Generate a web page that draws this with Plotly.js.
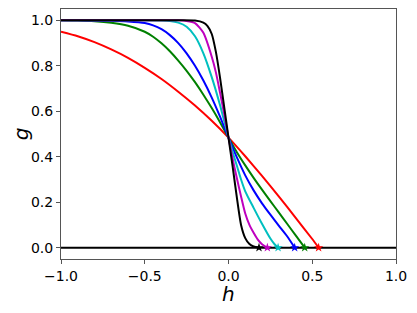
<!DOCTYPE html>
<html>
<head>
<meta charset="utf-8">
<script src="https://cdn.plot.ly/plotly-3.0.1.min.js"></script>
<style>html,body{margin:0;padding:0;background:#fff;}#chart{width:417px;height:313px;}</style>
</head>
<body>
<div id="chart"></div>
<script>
// Values
const hRed = [-1, -0.9, -0.8, -0.7, -0.6, -0.5, -0.4, -0.3, -0.2, -0.1, 0, 0.1, 0.2, 0.3, 0.4, 0.5, 0.538];
const gRed = [0.95, 0.93, 0.904, 0.872, 0.835, 0.791, 0.742, 0.686, 0.625, 0.558, 0.484, 0.402, 0.316, 0.226, 0.132, 0.038, 0];

const hGreen = [-1, -0.9, -0.8, -0.7, -0.6, -0.5, -0.45, -0.4, -0.35, -0.3, -0.25, -0.2, -0.15, -0.1, -0.05, 0, 0.05, 0.1, 0.15, 0.2, 0.25, 0.3, 0.35, 0.4, 0.455];
const gGreen = [1, 0.999, 0.996, 0.989, 0.976, 0.95, 0.928, 0.899, 0.864, 0.823, 0.778, 0.728, 0.673, 0.614, 0.551, 0.484, 0.42, 0.362, 0.307, 0.255, 0.205, 0.155, 0.105, 0.055, 0];

const hBlue = [-1, -0.9, -0.8, -0.7, -0.6, -0.5, -0.45, -0.4, -0.35, -0.3, -0.25, -0.2, -0.15, -0.1, -0.05, 0, 0.05, 0.1, 0.15, 0.2, 0.25, 0.3, 0.35, 0.395];
const gBlue = [1, 1, 0.999, 0.998, 0.995, 0.988, 0.978, 0.961, 0.935, 0.90, 0.855, 0.80, 0.735, 0.66, 0.575, 0.484, 0.397, 0.318, 0.252, 0.195, 0.145, 0.097, 0.05, 0];

const hCyan = [-1, -0.8, -0.6, -0.5, -0.4, -0.35, -0.3, -0.25, -0.2, -0.15, -0.1, -0.05, 0, 0.025, 0.05, 0.075, 0.1, 0.15, 0.2, 0.25, 0.275, 0.296];
const gCyan = [1, 1, 1, 1, 0.999, 0.997, 0.99, 0.972, 0.93, 0.855, 0.75, 0.625, 0.484, 0.42, 0.36, 0.30, 0.248, 0.175, 0.105, 0.04, 0.015, 0];

const hMagenta = [-1, -0.8, -0.6, -0.4, -0.3, -0.25, -0.2, -0.15, -0.1, -0.075, -0.05, -0.025, 0, 0.025, 0.05, 0.075, 0.1, 0.125, 0.15, 0.175, 0.2, 0.232];
const gMagenta = [1, 1, 1, 1, 1, 0.997, 0.988, 0.945, 0.84, 0.77, 0.68, 0.585, 0.484, 0.39, 0.305, 0.225, 0.15, 0.10, 0.065, 0.035, 0.015, 0];

const hBlack = [-1, -0.8, -0.6, -0.4, -0.3, -0.2, -0.15, -0.125, -0.1, -0.075, -0.05, -0.025, 0, 0.025, 0.05, 0.075, 0.1, 0.125, 0.15, 0.182];
const gBlack = [1, 1, 1, 1, 1, 0.999, 0.99, 0.975, 0.94, 0.86, 0.745, 0.615, 0.484, 0.355, 0.22, 0.10, 0.042, 0.016, 0.005, 0];

const hBase = [-1, 1];
const gBase = [0, 0];

const xTicks = [-1, -0.5, 0, 0.5, 1];
const yTicks = [0, 0.2, 0.4, 0.6, 0.8, 1.0];

const series = [
  {h: hRed, g: gRed, c: '#ff0000'},
  {h: hGreen, g: gGreen, c: '#008000'},
  {h: hBlue, g: gBlue, c: '#0000ff'},
  {h: hCyan, g: gCyan, c: '#00bfbf'},
  {h: hMagenta, g: gMagenta, c: '#bf00bf'},
  {h: hBlack, g: gBlack, c: '#000000'}
];

const traces = [];
series.forEach(s => {
  traces.push({x: s.h, y: s.g, mode: 'lines', line: {color: s.c, width: 2, shape: 'spline', smoothing: 0.6}, hoverinfo: 'skip'});
});
traces.push({x: hBase, y: gBase, mode: 'lines', line: {color: '#000000', width: 2}, hoverinfo: 'skip'});
series.forEach(s => {
  traces.push({x: [s.h[s.h.length - 1]], y: [s.g[s.g.length - 1]], mode: 'markers',
    marker: {symbol: 'star', size: 7, color: s.c}, hoverinfo: 'skip'});
});

const axisCommon = {
  showgrid: false, zeroline: false, showline: true, mirror: true,
  linecolor: '#555', linewidth: 1, ticks: 'outside', ticklen: 4, tickcolor: '#555', tickwidth: 1,
  tickfont: {family: 'DejaVu Sans', size: 14, color: '#000'}, tickformat: '.1f'
};

const layout = {
  width: 417, height: 313,
  margin: {l: 61, r: 21, t: 9, b: 54},
  showlegend: false,
  paper_bgcolor: '#fff', plot_bgcolor: '#fff',
  xaxis: Object.assign({}, axisCommon, {range: [-1, 1], tickvals: xTicks}),
  yaxis: Object.assign({}, axisCommon, {range: [-0.05, 1.05], tickvals: yTicks}),
  annotations: [
    {text: '<i>h</i>', xref: 'paper', yref: 'paper', x: 0.5, y: -0.138, xanchor: 'center', yanchor: 'middle',
      showarrow: false, font: {family: 'DejaVu Sans', size: 20, color: '#000'}},
    {text: '<i>g</i>', xref: 'paper', yref: 'paper', x: -0.119, y: 0.5, xanchor: 'center', yanchor: 'middle',
      textangle: -90, showarrow: false, font: {family: 'DejaVu Sans', size: 20, color: '#000'}}
  ]
};

Plotly.newPlot('chart', traces, layout, {displayModeBar: false, staticPlot: true});
</script>
</body>
</html>
